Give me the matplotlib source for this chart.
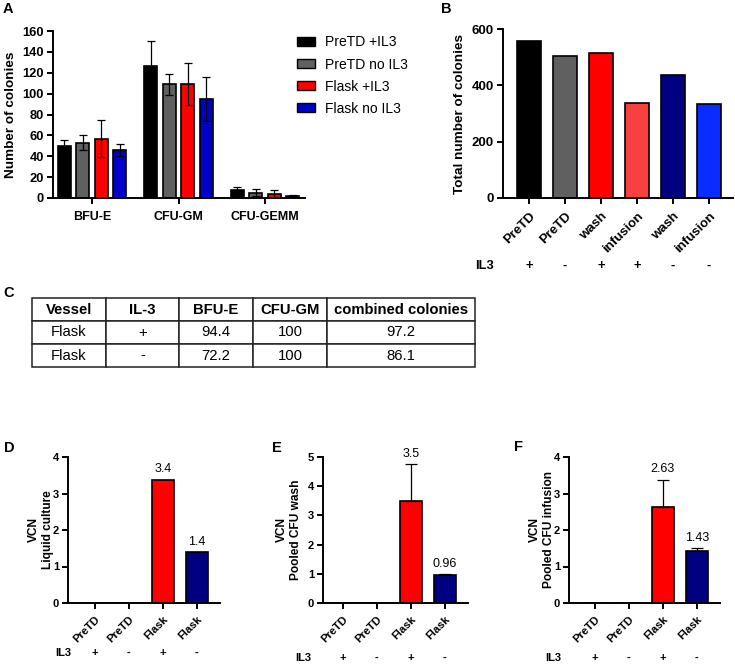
import matplotlib
matplotlib.use("Agg")
import matplotlib.pyplot as plt
from matplotlib.patches import Patch
from matplotlib.transforms import blended_transform_factory
import numpy as np

plt.rcParams['font.family'] = ['Liberation Sans', 'DejaVu Sans']

W, H = 735, 667
DPI = 100

# ---------------- data ----------------
# Panel A
a_groups = ["BFU-E", "CFU-GM", "CFU-GEMM"]
a_series = ["PreTD +IL3", "PreTD no IL3", "Flask +IL3", "Flask no IL3"]
a_colors = ["#000000", "#606060", "#ff0000", "#0000c8"]
a_values = [[50, 126, 8], [53, 109, 5], [57, 109, 4], [46, 95, 2]]
a_errors = [[6, 24, 2.5], [7, 10, 3.5], [18, 20, 3.5], [6, 21, 1]]
a_yticks = [0, 20, 40, 60, 80, 100, 120, 140, 160]

# Panel B
b_labels = ["PreTD", "PreTD", "wash", "infusion", "wash", "infusion"]
b_il3 = ["+", "-", "+", "+", "-", "-"]
b_values = [558, 505, 515, 337, 435, 333]
b_colors = ["#000000", "#606060", "#ff0000", "#f94040", "#000080", "#0a2cff"]
b_yticks = [0, 200, 400, 600]

# Panel C
c_header = ["Vessel", "IL-3", "BFU-E", "CFU-GM", "combined colonies"]
c_rows = [["Flask", "+", "94.4", "100", "97.2"],
          ["Flask", "-", "72.2", "100", "86.1"]]

# Panels D, E, F
def_labels = ["PreTD", "PreTD", "Flask", "Flask"]
def_il3 = ["+", "-", "+", "-"]
def_colors = ["#ffffff", "#ffffff", "#ff0000", "#000080"]
d_values = [0, 0, 3.38, 1.40]
d_text = ["", "", "3.4", "1.4"]
e_values = [0, 0, 3.50, 0.96]
e_errors = [0, 0, 1.25, 0.04]
e_text = ["", "", "3.5", "0.96"]
f_values = [0, 0, 2.63, 1.43]
f_errors = [0, 0, 0.75, 0.08]
f_text = ["", "", "2.63", "1.43"]

# ---------------- helpers ----------------
fig = plt.figure(figsize=(W / DPI, H / DPI), dpi=DPI)


def add_ax(l, t, r, b):
    return fig.add_axes([l / W, 1 - b / H, (r - l) / W, (b - t) / H])


def style(ax, tsize=8):
    for s in ["top", "right"]:
        ax.spines[s].set_visible(False)
    for s in ["left", "bottom"]:
        ax.spines[s].set_linewidth(1.4)
    ax.tick_params(width=1.4, length=4, labelsize=tsize, pad=2.5)
    for lab in ax.get_yticklabels():
        lab.set_fontweight("bold")


def panel_label(letter, x, y):
    fig.text(x / W, 1 - y / H, letter, fontsize=10.5, fontweight="bold",
             ha="left", va="center")


# ---------------- Panel A ----------------
axA = add_ax(53, 31, 305, 198)
x = np.arange(len(a_groups))
offs = [-0.321, -0.107, 0.107, 0.321]
for i in range(4):
    axA.bar(x + offs[i], a_values[i], width=0.15, color=a_colors[i],
            edgecolor="black", linewidth=1.2, label=a_series[i], zorder=2)
    axA.errorbar(x + offs[i], a_values[i], yerr=a_errors[i], fmt="none",
                 ecolor="black", elinewidth=0.9, capsize=3.2, capthick=0.9, zorder=3)
axA.set_xlim(-0.45, 2.46)
axA.set_ylim(0, 160)
axA.set_yticks(a_yticks)
axA.set_xticks(x)
axA.set_xticklabels(a_groups)
axA.set_ylabel("Number of colonies", fontsize=9.7, fontweight="bold", labelpad=4)
style(axA, 9.3)
for lab in axA.get_xticklabels():
    lab.set_fontweight("bold")
    lab.set_fontsize(9)
axA.tick_params(axis="x", pad=5)
handles = [Patch(facecolor=c, edgecolor="black", linewidth=1.0) for c in a_colors]
fig.legend(handles, a_series, loc="upper left",
           bbox_to_anchor=(284 / W, 1 - 23 / H), frameon=False, fontsize=10,
           handlelength=1.3, handleheight=0.58, labelspacing=0.58,
           handletextpad=0.72, borderpad=0.4)

# ---------------- Panel B ----------------
axB = add_ax(503, 29, 733, 198)
xb = np.arange(len(b_labels))
axB.bar(xb, b_values, width=0.65, color=b_colors, edgecolor="black",
        linewidth=1.2, zorder=2)
axB.set_xlim(-0.72, 5.67)
axB.set_ylim(0, 600)
axB.set_yticks(b_yticks)
axB.set_xticks(xb)
axB.set_xticklabels(b_labels, rotation=45, ha="right", rotation_mode="anchor",
                    fontsize=9.8, fontweight="bold")
axB.set_ylabel("Total number of colonies", fontsize=9.7, fontweight="bold", labelpad=4)
style(axB, 9.5)
axB.tick_params(axis="x", pad=5)
trB = blended_transform_factory(axB.transData, axB.transAxes)
yB = (198 - 266) / (198 - 29)
axB.text((484 - 503) / (733 - 503), yB, "IL3", transform=axB.transAxes, fontsize=9.3,
         fontweight="bold", ha="center", va="center")
for xi, s in zip(xb, b_il3):
    axB.text(xi, yB, s, transform=trB, fontsize=9.3, fontweight="bold",
             ha="center", va="center")

# ---------------- Panel C ----------------
axC = add_ax(32, 298, 475, 367)
axC.axis("off")
cw = np.array([74, 73, 74, 74, 148], dtype=float)
cw = cw / cw.sum()
tbl = axC.table(cellText=c_rows, colLabels=c_header, colWidths=cw,
                cellLoc="center", bbox=[0, 0, 1, 1])
tbl.auto_set_font_size(False)
for (r, c), cell in tbl.get_celld().items():
    cell.set_linewidth(1.1)
    cell.set_edgecolor("#222222")
    txt = cell.get_text()
    txt.set_fontsize(10.7)
    if r == 0:
        txt.set_fontweight("bold")

# ---------------- Panels D, E, F ----------------
def vcn_panel(l, t, r, b, xlim, ymax, vals, errs, texts, ylabel, il3_y, il3_x, lab_right):
    ax = add_ax(l, t, r, b)
    xx = np.arange(len(def_labels))
    ax.bar(xx, vals, width=0.64, color=def_colors, edgecolor="black",
           linewidth=1.2, zorder=2)
    tops = np.array(vals, dtype=float)
    if errs is not None:
        for xi, v, e in zip(xx, vals, errs):
            if e > 0:
                ax.errorbar(xi, v, yerr=[[0], [e]], fmt="none", ecolor="black",
                            elinewidth=0.9, capsize=4, capthick=0.9, zorder=3)
        tops = tops + np.array(errs, dtype=float)
    for xi, tp, s in zip(xx, tops, texts):
        if s:
            ax.annotate(s, (xi, tp), xytext=(0, 3), textcoords="offset points",
                        ha="center", va="bottom", fontsize=9)
    ax.set_xlim(*xlim)
    ax.set_ylim(0, ymax)
    ax.set_yticks(range(0, ymax + 1))
    ax.set_xticks(xx)
    ax.set_xticklabels(def_labels, rotation=45, ha="right", rotation_mode="anchor",
                       fontsize=7.7, fontweight="bold")
    ax.set_ylabel(ylabel, fontsize=8.6, fontweight="bold")
    ax.yaxis.set_label_coords((lab_right - l) / (r - l), 0.5)
    style(ax, 8)
    ax.tick_params(axis="x", pad=4)
    ya = (b - il3_y) / (b - t)
    tr = blended_transform_factory(ax.transData, ax.transAxes)
    for xi, s in zip(xx, def_il3):
        ax.text(xi, ya, s, transform=tr, fontsize=8, fontweight="bold",
                ha="center", va="center")
    ax.text((il3_x - l) / (r - l), ya, "IL3", transform=ax.transAxes,
            fontsize=8, fontweight="bold", ha="center", va="center")
    return ax


vcn_panel(68, 457, 220, 603, (-0.79, 3.68), 4, d_values, None, d_text,
          "VCN\nLiquid culture", 653, 63, 54)
vcn_panel(323, 457, 468, 603, (-0.59, 3.68), 5, e_values, e_errors, e_text,
          "VCN\nPooled CFU wash", 658, 303, 302)
vcn_panel(569, 457, 720, 603, (-0.76, 3.68), 4, f_values, f_errors, f_text,
          "VCN\nPooled CFU infusion", 658, 553, 555)

# panel letters
panel_label("A", 3, 9)
panel_label("B", 441, 9)
panel_label("C", 3, 293)
panel_label("D", 4, 448)
panel_label("E", 272, 448)
panel_label("F", 514, 447)

fig.savefig("out.png", dpi=DPI)
